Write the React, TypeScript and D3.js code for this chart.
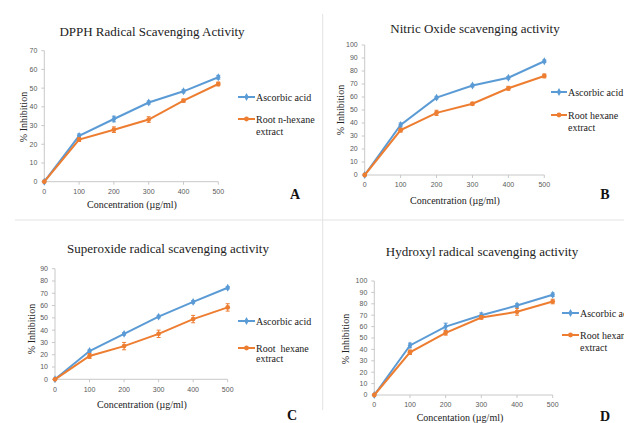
import * as d3 from 'd3'

const CONCENTRATIONS = [0, 100, 200, 300, 400, 500]

const DPPH_ASCORBIC = [0, 24.5, 33.5, 42.3, 48.3, 55.8]
const DPPH_HEXANE = [0, 22.5, 27.8, 33.2, 43.3, 52.2]
const DPPH_ASCORBIC_ERR = [0, 1, 1.5, 0.8, 0.8, 1]
const DPPH_HEXANE_ERR = [0, 1, 1.5, 1.5, 0.8, 1]

const NO_ASCORBIC = [0, 38.5, 59.5, 68.8, 74.8, 87.5]
const NO_HEXANE = [0, 34.5, 47.8, 54.8, 66.7, 76.2]
const NO_ASCORBIC_ERR = [0, 1.5, 1, 1, 1, 1]
const NO_HEXANE_ERR = [0, 1.5, 2, 1, 1.5, 1.5]

const SUPEROXIDE_ASCORBIC = [0, 23, 37, 51, 63, 74.5]
const SUPEROXIDE_HEXANE = [0, 19, 27, 37, 49, 58.5]
const SUPEROXIDE_ASCORBIC_ERR = [0, 1, 1, 1, 1, 1]
const SUPEROXIDE_HEXANE_ERR = [0, 2, 3, 3, 3, 3]

const HYDROXYL_ASCORBIC = [0, 43.5, 60, 70, 78.5, 88]
const HYDROXYL_HEXANE = [0, 37.5, 54.5, 68, 73, 82]
const HYDROXYL_ASCORBIC_ERR = [0, 2, 3, 2, 1.5, 1.5]
const HYDROXYL_HEXANE_ERR = [0, 2, 2, 1.5, 3, 2]

const BLUE = '#5b9bd5'
const ORANGE = '#ed7d31'
const AXIS = '#c8c8c8'
const TICK_TEXT = '#595959'
const SERIF = '"Liberation Serif", "Times New Roman", serif'
const SANS = '"Liberation Sans", Arial, sans-serif'

type PanelProps = {
  title: string
  xTitle: string
  letter: string
  ascorbic: number[]
  hexane: number[]
  ascorbicErr: number[]
  hexaneErr: number[]
  hexaneLabel: string
  yMax: number
  plot: { x0: number; x1: number; yTop: number; yBottom: number }
  titlePos: [number, number]
  xTitlePos: [number, number]
  yTitlePos: [number, number]
  legend: { x0: number; x1: number; y1: number; y2: number; y3: number }
  letterPos: [number, number]
}

function Series({ values, errors, color, x, y, marker }: {
  values: number[]
  errors: number[]
  color: string
  x: d3.ScaleLinear<number, number>
  y: d3.ScaleLinear<number, number>
  marker: d3.SymbolType
}) {
  const line = d3
    .line<number>()
    .x((_, i) => x(CONCENTRATIONS[i]))
    .y((v) => y(v))
  const sym = d3.symbol().type(marker).size(18)()
  return (
    <g>
      <path d={line(values) || ''} fill="none" stroke={color} strokeWidth={2} />
      {values.map((v, i) => {
        const cx = x(CONCENTRATIONS[i])
        const e = errors[i]
        return (
          <g key={i}>
            {e > 0 && (
              <g stroke={color} strokeWidth={1}>
                <line x1={cx} x2={cx} y1={y(v - e)} y2={y(v + e)} />
                <line x1={cx - 2} x2={cx + 2} y1={y(v - e)} y2={y(v - e)} />
                <line x1={cx - 2} x2={cx + 2} y1={y(v + e)} y2={y(v + e)} />
              </g>
            )}
            <path d={sym || ''} transform={`translate(${cx},${y(v)})`} fill={color} />
          </g>
        )
      })}
    </g>
  )
}

function Panel(p: PanelProps) {
  const x = d3.scaleLinear().domain([0, 500]).range([p.plot.x0, p.plot.x1])
  const y = d3.scaleLinear().domain([0, p.yMax]).range([p.plot.yBottom, p.plot.yTop])
  const yTicks = y.ticks(p.yMax / 10)
  const lg = p.legend
  const lgMid = (lg.x0 + lg.x1) / 2
  const diamond = d3.symbol().type(d3.symbolDiamond).size(18)()
  const circle = d3.symbol().type(d3.symbolCircle).size(18)()

  return (
    <g>
      <text x={p.titlePos[0]} y={p.titlePos[1]} dy="0.35em" textAnchor="middle"
        fontFamily={SERIF} fontSize={13} fill="#222">
        {p.title}
      </text>

      {/* axes */}
      <line x1={p.plot.x0} x2={p.plot.x0} y1={p.plot.yTop} y2={p.plot.yBottom} stroke={AXIS} />
      <line x1={p.plot.x0} x2={p.plot.x1} y1={p.plot.yBottom} y2={p.plot.yBottom} stroke={AXIS} />
      {yTicks.map((t) => (
        <g key={t}>
          <line x1={p.plot.x0 - 3} x2={p.plot.x0} y1={y(t)} y2={y(t)} stroke={AXIS} />
          <text x={p.plot.x0 - 7} y={y(t)} dy="0.35em" textAnchor="end"
            fontFamily={SANS} fontSize={7} fill={TICK_TEXT}>
            {t}
          </text>
        </g>
      ))}
      {CONCENTRATIONS.map((c) => (
        <g key={c}>
          <line x1={x(c)} x2={x(c)} y1={p.plot.yBottom} y2={p.plot.yBottom + 3} stroke={AXIS} />
          <text x={x(c)} y={p.plot.yBottom + 10} dy="0.35em" textAnchor="middle"
            fontFamily={SANS} fontSize={7} fill={TICK_TEXT}>
            {c}
          </text>
        </g>
      ))}

      <text x={p.xTitlePos[0]} y={p.xTitlePos[1]} dy="0.35em" textAnchor="middle"
        fontFamily={SERIF} fontSize={10} fill="#222">
        {p.xTitle}
      </text>
      <text transform={`translate(${p.yTitlePos[0]},${p.yTitlePos[1]}) rotate(-90)`}
        dy="0.35em" textAnchor="middle" fontFamily={SERIF} fontSize={10} fill="#222">
        % Inhibition
      </text>

      <Series values={p.ascorbic} errors={p.ascorbicErr} color={BLUE} x={x} y={y} marker={d3.symbolDiamond} />
      <Series values={p.hexane} errors={p.hexaneErr} color={ORANGE} x={x} y={y} marker={d3.symbolCircle} />

      {/* legend */}
      <line x1={lg.x0} x2={lg.x1} y1={lg.y1} y2={lg.y1} stroke={BLUE} strokeWidth={2} />
      <path d={diamond || ''} transform={`translate(${lgMid},${lg.y1})`} fill={BLUE} />
      <text x={lg.x1 + 1} y={lg.y1} dy="0.35em" fontFamily={SERIF} fontSize={10} fill="#222">
        Ascorbic acid
      </text>
      <line x1={lg.x0} x2={lg.x1} y1={lg.y2} y2={lg.y2} stroke={ORANGE} strokeWidth={2} />
      <path d={circle || ''} transform={`translate(${lgMid},${lg.y2})`} fill={ORANGE} />
      <text x={lg.x1 + 1} y={lg.y2} dy="0.35em" fontFamily={SERIF} fontSize={10} fill="#222"
        style={{ whiteSpace: 'pre' }}>
        {p.hexaneLabel}
      </text>
      <text x={lg.x1 + 1} y={lg.y3} dy="0.35em" fontFamily={SERIF} fontSize={10} fill="#222">
        extract
      </text>

      <text x={p.letterPos[0]} y={p.letterPos[1]} dy="0.35em" textAnchor="middle"
        fontFamily={SERIF} fontSize={14} fontWeight="bold" fill="#111">
        {p.letter}
      </text>
    </g>
  )
}

export default function App() {
  return (
    <svg width={624} height={423} viewBox="0 0 624 423"
      style={{ position: 'absolute', left: 0, top: 0, background: '#fff' }}>
      <rect width={624} height={423} fill="#fff" />
      <line x1={322.7} x2={322.7} y1={14} y2={410} stroke="#e2e2e2" />
      <line x1={15} x2={624} y1={220} y2={220} stroke="#e2e2e2" />

      <Panel
        title="DPPH Radical Scavenging Activity"
        xTitle="Concentration (µg/ml)"
        letter="A"
        ascorbic={DPPH_ASCORBIC}
        hexane={DPPH_HEXANE}
        ascorbicErr={DPPH_ASCORBIC_ERR}
        hexaneErr={DPPH_HEXANE_ERR}
        hexaneLabel="Root n-hexane"
        yMax={70}
        plot={{ x0: 44.3, x1: 218.3, yTop: 50.7, yBottom: 181.7 }}
        titlePos={[152, 31]}
        xTitlePos={[132, 204]}
        yTitlePos={[23, 117]}
        legend={{ x0: 238, x1: 255, y1: 97, y2: 119, y3: 131 }}
        letterPos={[295, 194]}
      />
      <Panel
        title="Nitric Oxide scavenging activity"
        xTitle="Concentration (µg/ml)"
        letter="B"
        ascorbic={NO_ASCORBIC}
        hexane={NO_HEXANE}
        ascorbicErr={NO_ASCORBIC_ERR}
        hexaneErr={NO_HEXANE_ERR}
        hexaneLabel="Root hexane"
        yMax={100}
        plot={{ x0: 364.7, x1: 544.3, yTop: 45, yBottom: 175 }}
        titlePos={[475, 28]}
        xTitlePos={[455, 200]}
        yTitlePos={[340, 110]}
        legend={{ x0: 551, x1: 567, y1: 92, y2: 115, y3: 127 }}
        letterPos={[605, 194]}
      />
      <Panel
        title="Superoxide radical scavenging activity"
        xTitle="Concentration (µg/ml)"
        letter="C"
        ascorbic={SUPEROXIDE_ASCORBIC}
        hexane={SUPEROXIDE_HEXANE}
        ascorbicErr={SUPEROXIDE_ASCORBIC_ERR}
        hexaneErr={SUPEROXIDE_HEXANE_ERR}
        hexaneLabel="Root  hexane"
        yMax={90}
        plot={{ x0: 55, x1: 227.7, yTop: 268.7, yBottom: 379.3 }}
        titlePos={[168, 248]}
        xTitlePos={[142, 404]}
        yTitlePos={[31, 329]}
        legend={{ x0: 238, x1: 255, y1: 321, y2: 348, y3: 358.5 }}
        letterPos={[292, 415]}
      />
      <Panel
        title="Hydroxyl radical scavenging activity"
        xTitle="Concentation (µg/ml)"
        letter="D"
        ascorbic={HYDROXYL_ASCORBIC}
        hexane={HYDROXYL_HEXANE}
        ascorbicErr={HYDROXYL_ASCORBIC_ERR}
        hexaneErr={HYDROXYL_HEXANE_ERR}
        hexaneLabel="Root hexane"
        yMax={100}
        plot={{ x0: 374.3, x1: 552.7, yTop: 281, yBottom: 395 }}
        titlePos={[482, 251]}
        xTitlePos={[460, 417]}
        yTitlePos={[345, 339]}
        legend={{ x0: 562, x1: 579, y1: 313, y2: 335, y3: 347 }}
        letterPos={[605, 416]}
      />
    </svg>
  )
}
